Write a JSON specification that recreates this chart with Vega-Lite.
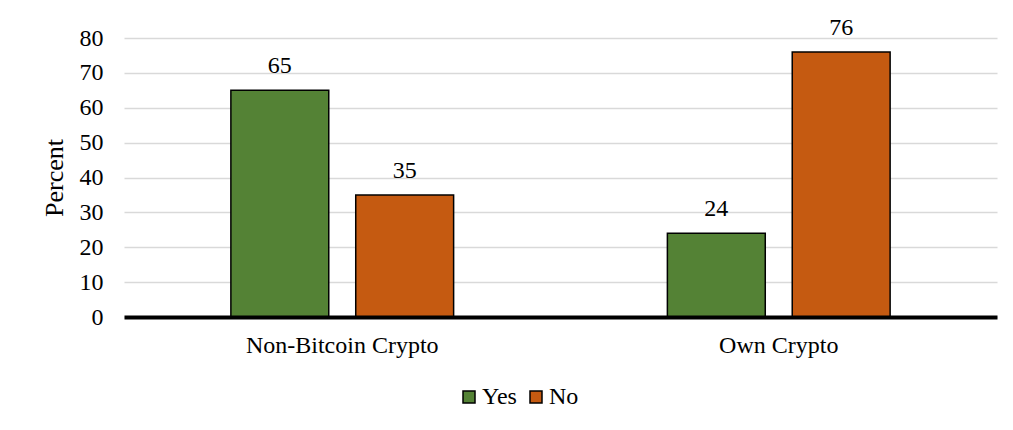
{
  "$schema": "https://vega.github.io/schema/vega-lite/v6.json",
  "width": 873,
  "height": 279,
  "autosize": {"type": "none"},
  "padding": {"left": 124, "top": 38, "right": 16, "bottom": 113},
  "background": "white",
  "config": {
    "font": "Liberation Serif",
    "axis": {"labelFont": "Liberation Serif", "titleFont": "Liberation Serif"},
    "legend": {"labelFont": "Liberation Serif"},
    "text": {"font": "Liberation Serif"},
    "view": {"stroke": null}
  },
  "data": {
    "values": [
      {"category": "Non-Bitcoin Crypto", "answer": "Yes", "percent": 65},
      {"category": "Non-Bitcoin Crypto", "answer": "No", "percent": 35},
      {"category": "Own Crypto", "answer": "Yes", "percent": 24},
      {"category": "Own Crypto", "answer": "No", "percent": 76}
    ]
  },
  "encoding": {
    "x": {
      "field": "category",
      "type": "nominal",
      "sort": ["Non-Bitcoin Crypto", "Own Crypto"],
      "scale": {"paddingInner": 0, "paddingOuter": 0},
      "axis": {
        "title": null,
        "labelAngle": 0,
        "labelFont": "Liberation Serif",
        "labelFontSize": 24,
        "labelColor": "black",
        "labelPadding": 16,
        "labelLimit": 0,
        "ticks": false,
        "domainColor": "black",
        "domainWidth": 4,
        "zindex": 2
      }
    },
    "xOffset": {
      "field": "answer",
      "type": "nominal",
      "sort": ["Yes", "No"],
      "scale": {"paddingInner": 0.216, "paddingOuter": 0.856}
    },
    "y": {
      "field": "percent",
      "type": "quantitative",
      "scale": {"domain": [0, 80], "nice": false},
      "axis": {
        "title": "Percent",
        "titleFont": "Liberation Serif",
        "titleFontSize": 26,
        "titleFontWeight": "normal",
        "titleColor": "black",
        "titlePadding": 12,
        "labelFont": "Liberation Serif",
        "labelFontSize": 24,
        "labelColor": "black",
        "labelPadding": 21,
        "labelOverlap": false,
        "values": [0, 10, 20, 30, 40, 50, 60, 70, 80],
        "ticks": false,
        "domain": false,
        "gridColor": "#d9d9d9",
        "gridWidth": 1.6
      }
    }
  },
  "layer": [
    {
      "mark": {"type": "bar", "stroke": "black", "strokeWidth": 1.5},
      "encoding": {
        "color": {
          "field": "answer",
          "type": "nominal",
          "sort": ["Yes", "No"],
          "scale": {"domain": ["Yes", "No"], "range": ["#548235", "#C55A11"]},
          "legend": {
            "title": null,
            "orient": "none",
            "legendX": 333,
            "legendY": 347,
            "direction": "horizontal",
            "symbolType": "square",
            "symbolSize": 144,
            "symbolStrokeColor": "black",
            "symbolStrokeWidth": 1.5,
            "labelFont": "Liberation Serif",
            "labelFontSize": 24,
            "labelColor": "black",
            "labelOffset": 1,
            "columnPadding": 7
          }
        }
      }
    },
    {
      "mark": {"type": "text", "baseline": "alphabetic", "dy": -17, "fontSize": 24, "color": "black", "font": "Liberation Serif"},
      "encoding": {
        "text": {"field": "percent", "type": "quantitative"}
      }
    }
  ]
}
